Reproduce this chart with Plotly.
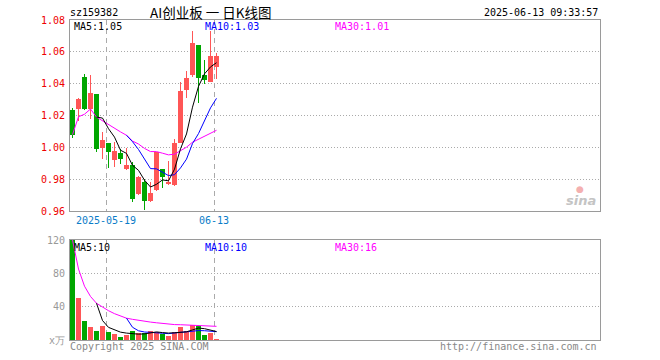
import plotly.graph_objects as go
import pandas as pd

# ---------------- data ----------------
dates = ["2025-05-09", "2025-05-12", "2025-05-13", "2025-05-14", "2025-05-15",
         "2025-05-16", "2025-05-19", "2025-05-20", "2025-05-21", "2025-05-22",
         "2025-05-23", "2025-05-26", "2025-05-27", "2025-05-28", "2025-05-29",
         "2025-05-30", "2025-06-03", "2025-06-04", "2025-06-05", "2025-06-06",
         "2025-06-09", "2025-06-10", "2025-06-11", "2025-06-12", "2025-06-13"]
opens = [1.0234, 1.0240, 1.0440, 1.0240, 1.0333, 0.9998, 1.0030, 0.9918, 0.9962, 0.9865,
         0.9886, 0.9707, 0.9781, 0.9665, 0.9735, 0.9861, 0.9769, 0.9764, 1.0030, 1.0360,
         1.0455, 1.0641, 1.0455, 1.0413, 1.0504]
highs = [1.0245, 1.0312, 1.0459, 1.0455, 1.0333, 1.0097, 1.0030, 1.0034, 0.9987, 0.9996,
         0.9907, 0.9823, 0.9802, 0.9781, 0.9971, 0.9861, 0.9912, 1.0055, 1.0409, 1.0480,
         1.0733, 1.0641, 1.0550, 1.0733, 1.0592]
lows = [1.0061, 1.0164, 1.0234, 1.0181, 0.9971, 0.9928, 0.9872, 0.9876, 0.9893, 0.9855,
        0.9659, 0.9701, 0.9606, 0.9659, 0.9728, 0.9743, 0.9762, 0.9760, 1.0025, 1.0308,
        1.0445, 1.0276, 1.0396, 1.0409, 1.0430]
closes = [1.0080, 1.0304, 1.0240, 1.0339, 0.9987, 1.0049, 0.9971, 0.9975, 0.9928, 0.9886,
          0.9676, 0.9813, 0.9665, 0.9714, 0.9971, 0.9813, 0.9785, 1.0030, 1.0354, 1.0438,
          1.0655, 1.0438, 1.0424, 1.0571, 1.0571]
volumes = [120.0, 50.3, 23.4, 15.3, 11.3, 16.5, 9.3, 6.8, 3.2, 5.6,
           11.3, 8.1, 8.5, 11.3, 9.3, 7.3, 5.2, 10.1, 15.3, 11.3,
           18.5, 16.5, 6.4, 8.1, 1.2]   # 万
price_ticks = [0.96, 0.98, 1.00, 1.02, 1.04, 1.06, 1.08]
vol_ticks = [0, 40, 80, 120]
vol_tick_labels = ["x万", "40", "80", "120"]
marked_dates = {"2025-05-19": "2025-05-19", "2025-06-13": "06-13"}

title_code = "sz159382"
title_name = "AI创业板 一 日K线图"
stamp = "2025-06-13 09:33:57"

# ---------------- derived ----------------
df = pd.DataFrame({"date": dates, "open": opens, "high": highs, "low": lows,
                   "close": closes, "vol": volumes})
idx = list(range(len(df)))
up = df["close"] >= df["open"]
RED, GREEN = "#ff5656", "#00a600"
colors = [RED if u else GREEN for u in up]

ma5 = df["close"].rolling(5).mean()
ma10 = df["close"].rolling(10).mean()
ma30 = df["close"].expanding().mean()
vma5 = df["vol"].rolling(5).mean()
vma10 = df["vol"].rolling(10).mean()
vma30 = df["vol"].expanding().mean()

SLOTS = 530 / 6.0          # 6 px per trading day over 530 px wide plot
x0 = -2.5 / 6.0
xrange = [x0, x0 + SLOTS]
edge = 2.5 / 6.0
mark_pos = [dates.index(d) - edge for d in marked_dates]
mark_txt = list(marked_dates.values())

fig = go.Figure()

# wicks
fig.add_trace(go.Bar(x=idx, y=(df["high"] - df["low"]), base=df["low"], width=1 / 6.0,
                     marker=dict(color=colors, line=dict(width=0)), xaxis="x", yaxis="y"))
# bodies
fig.add_trace(go.Bar(x=idx, y=(df["close"] - df["open"]).abs(),
                     base=df[["open", "close"]].min(axis=1), width=5 / 6.0,
                     marker=dict(color=colors, line=dict(width=0)), xaxis="x", yaxis="y"))
for s, c in [(ma30, "#ff00ff"), (ma10, "#0000ff"), (ma5, "#000000")]:
    fig.add_trace(go.Scatter(x=idx, y=s, mode="lines", line=dict(color=c, width=1),
                             xaxis="x", yaxis="y"))

# volume
fig.add_trace(go.Bar(x=idx, y=df["vol"], width=5 / 6.0,
                     marker=dict(color=colors, line=dict(width=0)), xaxis="x2", yaxis="y2"))
for s, c in [(vma30, "#ff00ff"), (vma10, "#0000ff"), (vma5, "#000000")]:
    fig.add_trace(go.Scatter(x=idx, y=s, mode="lines", line=dict(color=c, width=1),
                             xaxis="x2", yaxis="y2"))

FONT = "DejaVu Sans Mono"
FRAME = "#9a9a9a"
GRID = "#aaaaaa"

axis_common = dict(showline=True, mirror=True, linecolor=FRAME, linewidth=1,
                   zeroline=False, fixedrange=True)

fig.update_layout(
    width=660, height=360,
    margin=dict(l=70, r=60, t=20, b=20),
    paper_bgcolor="white", plot_bgcolor="white",
    showlegend=False, barmode="overlay", bargap=0,
    font=dict(family=FONT, size=10, color="#000000"),
    xaxis=dict(domain=[0, 1], range=xrange, anchor="y",
               tickmode="array", tickvals=mark_pos, ticktext=mark_txt,
               tickfont=dict(color="#0a7cc8", size=10, family=FONT),
               ticks="", showgrid=True, gridcolor=GRID, griddash="5px,4px", gridwidth=1,
               **axis_common),
    xaxis2=dict(domain=[0, 1], range=xrange, anchor="y2", matches="x",
                tickmode="array", tickvals=mark_pos, showticklabels=False,
                ticks="", showgrid=True, gridcolor=GRID, griddash="5px,4px", gridwidth=1,
                **axis_common),
    yaxis=dict(domain=[1 - 191 / 320.0, 1], range=[price_ticks[0], price_ticks[-1]],
               anchor="x", tickmode="array", tickvals=price_ticks,
               ticktext=[f"{v:.2f}" for v in price_ticks],
               tickfont=dict(color="#ee0000", size=10, family=FONT),
               ticks="outside", ticklen=2, tickcolor="white",
               showgrid=True, gridcolor=GRID, griddash="1px,2px", gridwidth=1,
               **axis_common),
    yaxis2=dict(domain=[0, 100 / 320.0], range=[0, 120], anchor="x2",
                tickmode="array", tickvals=vol_ticks, ticktext=vol_tick_labels,
                tickfont=dict(color="#999999", size=10, family=FONT),
                ticks="outside", ticklen=2, tickcolor="white",
                showgrid=True, gridcolor=GRID, griddash="1px,2px", gridwidth=1,
                **axis_common),
)


def px(xp):
    return (xp - 70) / 530.0


def py(yp):
    return (340 - yp) / 320.0


def note(text, x, y, color="#000000", anchor="left", size=10, family=FONT):
    fig.add_annotation(text=text, x=px(x), y=py(y), xref="paper", yref="paper",
                       xanchor=anchor, yanchor="middle", showarrow=False,
                       font=dict(color=color, size=size, family=family))


note(title_code, 68, 12)
note(title_name, 148, 12, size=13.5, family="Noto Sans CJK SC")
note(stamp, 600, 12, anchor="right")

note(f"MA5:{ma5.iloc[-1]:.2f}", 72, 27)
note(f"MA10:{ma10.iloc[-1]:.2f}", 203, 27, color="#0000ff")
note(f"MA30:{ma30.iloc[-1]:.2f}", 333, 27, color="#ff00ff")

note(f"MA5:{vma5.iloc[-1]:.0f}", 72, 247)
note(f"MA10:{vma10.iloc[-1]:.0f}", 203, 247, color="#0000ff")
note(f"MA30:{vma30.iloc[-1]:.0f}", 333, 247, color="#ff00ff")

note("Copyright 2025 SINA.COM", 68, 346, color="#888888")
note("http://finance.sina.com.cn", 599, 346, color="#888888", anchor="right")

# watermark
note("<b><i>sina</i></b>", 598, 200, color="#c4c4c4", anchor="right", size=13,
     family="DejaVu Sans")
note("●", 580, 189, color="#f4b0b0", anchor="center", size=9, family="DejaVu Sans")

fig.write_html("out.html",
               config={"displayModeBar": False, "staticPlot": True},
               post_script="document.body.style.margin='0px';"
                           "document.body.style.overflow='hidden';")
